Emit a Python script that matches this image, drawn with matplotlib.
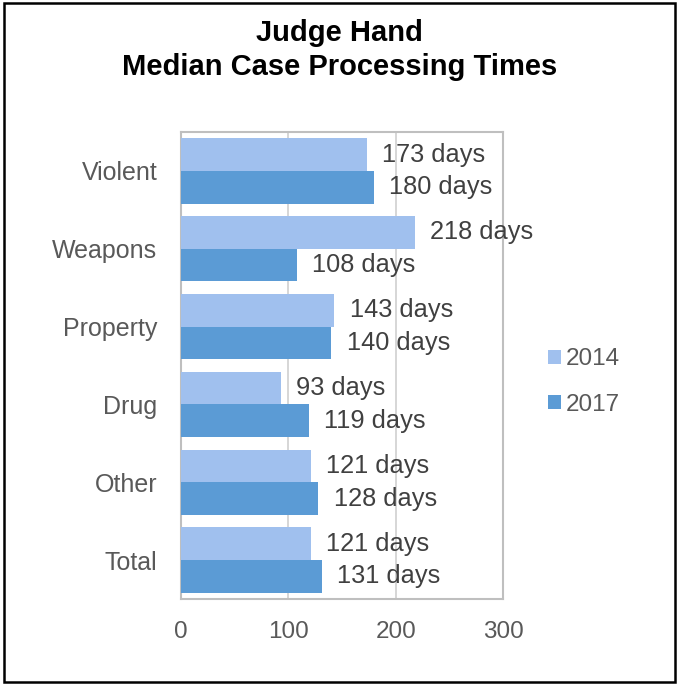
"""Median case processing times, horizontal grouped bars."""

import matplotlib

matplotlib.use("Agg")
import matplotlib.pyplot as plt
import numpy as np
from matplotlib.patches import Rectangle

categories = ["Violent", "Weapons", "Property", "Drug", "Other", "Total"]
days_2014 = [173, 218, 143, 93, 121, 121]
days_2017 = [180, 108, 140, 119, 128, 131]
series_labels = ["2014", "2017"]
x_ticks = [0, 100, 200, 300]

COLOR_2014 = "#A0C0EE"
COLOR_2017 = "#5B9BD5"
TEXT_GRAY = "#595959"
LABEL_GRAY = "#404040"

plt.rcParams["font.family"] = ["Liberation Sans", "DejaVu Sans"]

fig = plt.figure(figsize=(6.79, 6.84), dpi=100)
ax = fig.add_axes([181 / 679, 1 - 599 / 684, 322 / 679, 467 / 684])

y = np.arange(len(categories))
h = 0.42
bars_a = ax.barh(y - h / 2, days_2014, height=h, color=COLOR_2014,
                 label=series_labels[0], zorder=3)
bars_b = ax.barh(y + h / 2, days_2017, height=h, color=COLOR_2017,
                 label=series_labels[1], zorder=3)

for bars in (bars_a, bars_b):
    for b in bars:
        w = b.get_width()
        ax.annotate(f"{w:.0f} days", (w, b.get_y() + b.get_height() / 2),
                    xytext=(11, 0), textcoords="offset points",
                    ha="left", va="center", fontsize=18.3, color=LABEL_GRAY,
                    zorder=4)

ax.set_xlim(0, 300)
ax.set_ylim(len(categories) - 0.5, -0.5)
ax.set_xticks(x_ticks)
ax.set_yticks(y)
ax.set_yticklabels(categories)
ax.tick_params(axis="both", length=0, labelcolor=TEXT_GRAY)
ax.tick_params(axis="x", pad=16, labelsize=17.5)
ax.tick_params(axis="y", pad=17, labelsize=18)
ax.grid(axis="x", color="#D0D0D0", linewidth=1.2, zorder=0)
for s in ax.spines.values():
    s.set_color("#BFBFBF")
    s.set_linewidth(1.5)

leg = fig.legend(handles=[bars_a, bars_b], loc="center left",
                 bbox_to_anchor=(526 / 679, 1 - 382 / 684), frameon=False,
                 fontsize=17.5, handlelength=0.55, handleheight=0.55,
                 handletextpad=0.2, labelspacing=0.95)
for t in leg.get_texts():
    t.set_color(TEXT_GRAY)

fig.text(0.5, 1 - 41 / 684, "Judge Hand", ha="center", va="baseline",
         fontsize=21, fontweight="bold")
fig.text(0.5, 1 - 75 / 684, "Median Case Processing Times", ha="center",
         va="baseline", fontsize=21, fontweight="bold")

fig.patches.append(Rectangle((4 / 679, 2 / 684), 671 / 679, 679 / 684,
                             transform=fig.transFigure, fill=False,
                             edgecolor="black", linewidth=1.8))

fig.savefig("out.png", dpi=100)
plt.close(fig)
